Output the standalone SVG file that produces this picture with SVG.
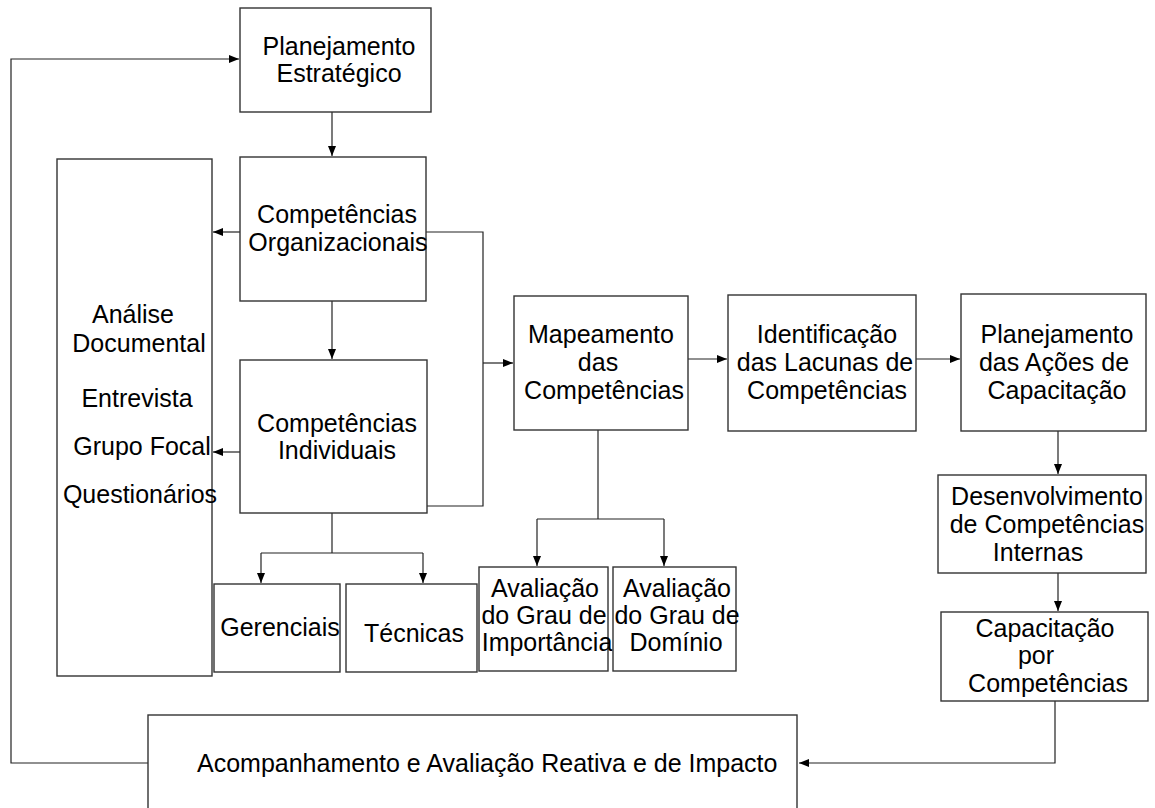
<svg xmlns="http://www.w3.org/2000/svg" width="1155" height="808" viewBox="0 0 1155 808">
<style>
.box{fill:#fff;stroke:#333;stroke-width:1.4}
.t{font-family:"Liberation Sans",Arial,sans-serif;font-size:25px;fill:#000;text-anchor:middle}
.c{fill:none;stroke:#222;stroke-width:1.2}
</style>
<defs>
<marker id="ah" markerUnits="userSpaceOnUse" markerWidth="11" markerHeight="9" refX="10" refY="4" orient="auto">
<path d="M0,0 L10,4 L0,8 z" fill="#000"/>
</marker>
</defs>
<rect width="1155" height="808" fill="#fff"/>
<g id="connectors">
<path class="c" d="M148,763 H11 V59 H239" marker-end="url(#ah)"/>
<path class="c" d="M332,112 V156" marker-end="url(#ah)"/>
<path class="c" d="M240,232 H213" marker-end="url(#ah)"/>
<path class="c" d="M332,301 V359" marker-end="url(#ah)"/>
<path class="c" d="M240,452 H213" marker-end="url(#ah)"/>
<path class="c" d="M425,232 H483 V506 H423"/>
<path class="c" d="M483,363 H513" marker-end="url(#ah)"/>
<path class="c" d="M332,513 V553"/>
<path class="c" d="M261,553 H423"/>
<path class="c" d="M261,553 V583" marker-end="url(#ah)"/>
<path class="c" d="M423,553 V583" marker-end="url(#ah)"/>
<path class="c" d="M598,430 V519"/>
<path class="c" d="M537,519 H664"/>
<path class="c" d="M537,519 V566" marker-end="url(#ah)"/>
<path class="c" d="M664,519 V566" marker-end="url(#ah)"/>
<path class="c" d="M688,359 H727" marker-end="url(#ah)"/>
<path class="c" d="M916,359 H960" marker-end="url(#ah)"/>
<path class="c" d="M1058,431 V474" marker-end="url(#ah)"/>
<path class="c" d="M1058,573 V611" marker-end="url(#ah)"/>
<path class="c" d="M1055,701 V763 H799" marker-end="url(#ah)"/>
</g>
<g id="planejamento-estrategico">
<rect class="box" x="240" y="8" width="191" height="104"/>
<text class="t" x="339" y="55">Planejamento</text>
<text class="t" x="339" y="82">Estratégico</text>
</g>
<g id="competencias-organizacionais">
<rect class="box" x="240" y="157" width="186" height="144"/>
<text class="t" x="337" y="223">Competências</text>
<text class="t" x="338" y="251">Organizacionais</text>
</g>
<g id="metodos">
<rect class="box" x="57" y="159" width="155" height="517"/>
<text class="t" x="133" y="323">Análise</text>
<text class="t" x="139" y="352">Documental</text>
<text class="t" x="137" y="407">Entrevista</text>
<text class="t" x="142" y="455">Grupo Focal</text>
<text class="t" x="140" y="503">Questionários</text>
</g>
<g id="competencias-individuais">
<rect class="box" x="240" y="360" width="187" height="153"/>
<text class="t" x="337" y="432">Competências</text>
<text class="t" x="337" y="459">Individuais</text>
</g>
<g id="gerenciais">
<rect class="box" x="214" y="584" width="126" height="88"/>
<text class="t" x="280" y="636">Gerenciais</text>
</g>
<g id="tecnicas">
<rect class="box" x="346" y="584" width="131" height="88"/>
<text class="t" x="414" y="642">Técnicas</text>
</g>
<g id="mapeamento">
<rect class="box" x="514" y="296" width="174" height="134"/>
<text class="t" x="601" y="343">Mapeamento</text>
<text class="t" x="598" y="371">das</text>
<text class="t" x="604" y="399">Competências</text>
</g>
<g id="avaliacao-importancia">
<rect class="box" x="479" y="567" width="129" height="104"/>
<text class="t" x="545" y="597">Avaliação</text>
<text class="t" x="544" y="624">do Grau de</text>
<text class="t" x="547" y="651">Importância</text>
</g>
<g id="avaliacao-dominio">
<rect class="box" x="613" y="567" width="123" height="104"/>
<text class="t" x="677" y="597">Avaliação</text>
<text class="t" x="677" y="624">do Grau de</text>
<text class="t" x="676" y="651">Domínio</text>
</g>
<g id="identificacao">
<rect class="box" x="728" y="295" width="188" height="136"/>
<text class="t" x="827" y="343">Identificação</text>
<text class="t" x="825" y="371">das Lacunas de</text>
<text class="t" x="827" y="399">Competências</text>
</g>
<g id="planejamento-acoes">
<rect class="box" x="961" y="294" width="185" height="137"/>
<text class="t" x="1057" y="343">Planejamento</text>
<text class="t" x="1054" y="371">das Ações de</text>
<text class="t" x="1057" y="399">Capacitação</text>
</g>
<g id="desenvolvimento">
<rect class="box" x="938" y="475" width="208" height="98"/>
<text class="t" x="1047" y="505">Desenvolvimento</text>
<text class="t" x="1047" y="533">de Competências</text>
<text class="t" x="1038" y="561">Internas</text>
</g>
<g id="capacitacao">
<rect class="box" x="941" y="612" width="207" height="89"/>
<text class="t" x="1045" y="637">Capacitação</text>
<text class="t" x="1036" y="664">por</text>
<text class="t" x="1048" y="692">Competências</text>
</g>
<g id="acompanhamento">
<rect class="box" x="148" y="715" width="649" height="100"/>
<text class="t" x="197" y="772" style="text-anchor:start">Acompanhamento e Avaliação Reativa e de Impacto</text>
</g>
</svg>
